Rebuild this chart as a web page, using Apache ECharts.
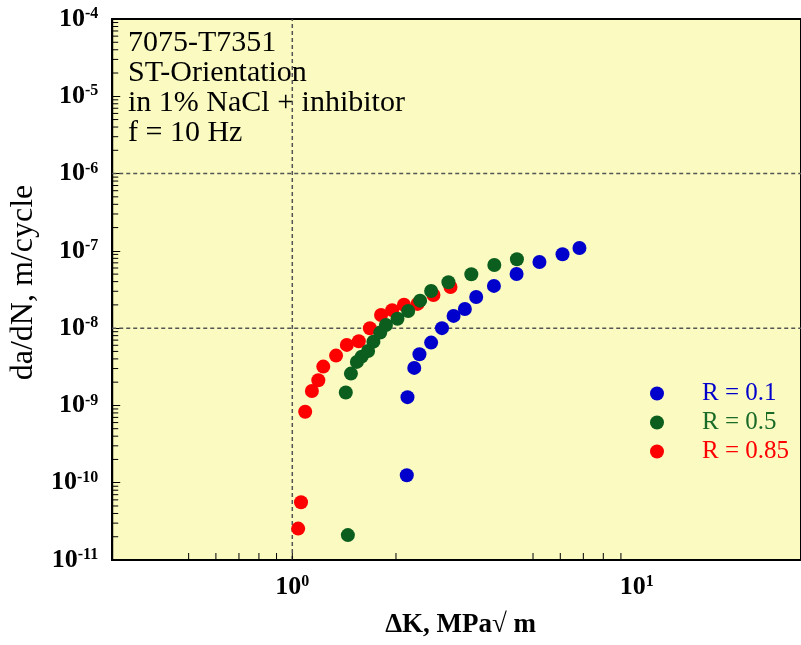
<!DOCTYPE html>
<html>
<head>
<meta charset="utf-8">
<script src="https://cdn.jsdelivr.net/npm/echarts@6/dist/echarts.min.js"></script>
<style>
  html, body { margin: 0; padding: 0; background: #fff; }
  #container { width: 801px; height: 645px; }
</style>
</head>
<body>
<div id="container"></div>
<script>
// R = 0.1
var blueX = [2.15, 2.16, 2.26, 2.34, 2.53, 2.72, 2.94, 3.17, 3.42, 3.85, 4.48, 5.22, 6.09, 6.82];
var blueY = [1.25e-10, 1.28e-9, 3.06e-9, 4.6e-9, 6.5e-9, 1.0e-8, 1.44e-8, 1.77e-8, 2.53e-8, 3.52e-8, 5.02e-8, 7.18e-8, 9.04e-8, 1.09e-7];
// R = 0.5
var greenX = [1.45, 1.43, 1.48, 1.54, 1.59, 1.66, 1.72, 1.80, 1.87, 2.02, 2.17, 2.35, 2.53, 2.84, 3.31, 3.86, 4.49];
var greenY = [2.1e-11, 1.47e-9, 2.58e-9, 3.66e-9, 4.28e-9, 5.07e-9, 6.69e-9, 8.75e-9, 1.1e-8, 1.32e-8, 1.67e-8, 2.27e-8, 3.03e-8, 3.92e-8, 4.98e-8, 6.57e-8, 7.78e-8];
// R = 0.85
var redX = [1.04, 1.06, 1.09, 1.14, 1.19, 1.23, 1.34, 1.44, 1.56, 1.68, 1.81, 1.95, 2.11, 2.31, 2.57, 2.88];
var redY = [2.55e-11, 5.6e-11, 8.3e-10, 1.54e-9, 2.12e-9, 3.18e-9, 4.41e-9, 6.07e-9, 6.77e-9, 9.97e-9, 1.48e-8, 1.71e-8, 2.01e-8, 2.06e-8, 2.69e-8, 3.41e-8];

var seriesNames = ["R = 0.1", "R = 0.5", "R = 0.85"];
var noteLines = ["7075-T7351", "ST-Orientation", "in 1% NaCl + inhibitor", "f = 10 Hz"];

// axis decoration
var xTicks = [0.5, 0.6, 0.7, 0.8, 0.9, 1, 2, 5, 6, 7, 8, 9];
var yDecades = [-11, -10, -9, -8, -7, -6, -5];
var yMantissa = [2, 3, 4, 5, 6, 7, 8, 9];
var yGridLines = [1e-6, 1e-8];
var xGridLines = [1];

var serif = "Liberation Serif";
var xMin = 0.3, xMax = 30, yMin = 1e-11, yMax = 1e-4;

var yMinorTicks = [];
yDecades.forEach(function (d) {
  yMantissa.forEach(function (m) { yMinorTicks.push(m * Math.pow(10, d)); });
});

function zip(xs, ys) {
  return xs.map(function (x, i) { return [x, ys[i]]; });
}

function powLabel(v) {
  var e = Math.round(Math.log10(v));
  return "{b|10}{s|" + e + "}";
}

var richLabel = {
  b: { fontFamily: serif, fontSize: 26, fontWeight: "bold", color: "#000" },
  s: { fontFamily: serif, fontSize: 16, fontWeight: "bold", color: "#000", verticalAlign: "top" }
};

// one line segment between two data points
function segment(p1, p2, api, style) {
  var a = api.coord(p1), b = api.coord(p2);
  return { type: "line", shape: { x1: a[0], y1: a[1], x2: b[0], y2: b[1] }, style: style };
}

var dashStyle = { stroke: "#555", lineWidth: 1.5, lineDash: [4, 3] };
var tickStyle = { stroke: "#000", lineWidth: 1 };

var dom = document.getElementById("container");
var myChart = echarts.init(dom, null, { renderer: "canvas" });

var option = {
  animation: false,
  backgroundColor: "#fff",
  grid: {
    left: 109,
    top: 19,
    width: 693,
    height: 541,
    show: true,
    backgroundColor: "#FAFAC1",
    borderColor: "#000",
    borderWidth: 2
  },
  legend: {
    orient: "vertical",
    left: 645,
    top: 376,
    itemWidth: 14,
    itemHeight: 14,
    itemGap: 4,
    icon: "circle",
    textStyle: { fontFamily: serif, fontSize: 25, padding: [0, 0, 0, 33] },
    data: [
      { name: seriesNames[0], textStyle: { color: "#0000CC" } },
      { name: seriesNames[1], textStyle: { color: "#1A6A28" } },
      { name: seriesNames[2], textStyle: { color: "#FF0000" } }
    ]
  },
  xAxis: {
    type: "log",
    min: xMin,
    max: xMax,
    name: "ΔK, MPa√ m",
    nameLocation: "middle",
    nameGap: 52,
    nameTextStyle: { fontFamily: serif, fontSize: 27, fontWeight: "bold", color: "#000", padding: [0, 0, 0, 8] },
    axisLine: { lineStyle: { color: "#000", width: 2 } },
    axisTick: { show: false },
    splitLine: { show: false },
    axisLabel: {
      margin: 14,
      showMinLabel: false,
      showMaxLabel: false,
      formatter: powLabel,
      rich: richLabel
    }
  },
  yAxis: {
    type: "log",
    min: yMin,
    max: yMax,
    name: "da/dN, m/cycle",
    nameLocation: "middle",
    nameGap: 57,
    nameTextStyle: { fontFamily: serif, fontSize: 32, color: "#000", padding: [0, 0, 0, 14] },
    axisLine: { lineStyle: { color: "#000", width: 2 } },
    axisTick: { show: true, inside: true, length: 8, lineStyle: { color: "#000", width: 1 } },
    splitLine: { show: false },
    axisLabel: {
      margin: 14,
      formatter: powLabel,
      rich: richLabel
    }
  },
  graphic: [
    {
      type: "text",
      left: 128,
      top: 28,
      style: {
        text: noteLines.join("\n"),
        font: "30px " + serif,
        lineHeight: 30,
        fill: "#000"
      }
    }
  ],
  series: [
    {
      // dashed reference lines
      type: "custom",
      silent: true,
      data: yGridLines.map(function (v) { return [0, v]; })
        .concat(xGridLines.map(function (v) { return [1, v]; })),
      renderItem: function (params, api) {
        var v = api.value(1);
        if (api.value(0) === 0) {
          return segment([xMin, v], [xMax, v], api, dashStyle);
        }
        return segment([v, yMin], [v, yMax], api, dashStyle);
      },
      z: 1
    },
    {
      type: "custom",
      silent: true,
      data: xTicks.map(function (v) { return [v, yMin]; }),
      renderItem: function (params, api) {
        var p = api.coord([api.value(0), api.value(1)]);
        return {
          type: "line",
          shape: { x1: p[0], y1: p[1], x2: p[0], y2: p[1] - 7 },
          style: tickStyle
        };
      },
      z: 3
    },
    {
      type: "custom",
      silent: true,
      data: yMinorTicks.map(function (v) { return [xMin, v]; }),
      renderItem: function (params, api) {
        var p = api.coord([api.value(0), api.value(1)]);
        return {
          type: "line",
          shape: { x1: p[0], y1: p[1], x2: p[0] + 6, y2: p[1] },
          style: tickStyle
        };
      },
      z: 3
    },
    {
      name: seriesNames[2],
      type: "scatter",
      symbol: "circle",
      symbolSize: 14,
      itemStyle: { color: "#FF0000", opacity: 1 },
      data: zip(redX, redY),
      z: 4
    },
    {
      name: seriesNames[1],
      type: "scatter",
      symbol: "circle",
      symbolSize: 14,
      itemStyle: { color: "#0B5E1E", opacity: 1 },
      data: zip(greenX, greenY),
      z: 5
    },
    {
      name: seriesNames[0],
      type: "scatter",
      symbol: "circle",
      symbolSize: 14,
      itemStyle: { color: "#0000CC", opacity: 1 },
      data: zip(blueX, blueY),
      z: 6
    }
  ]
};

myChart.setOption(option);
window.addEventListener("resize", myChart.resize);
</script>
</body>
</html>
